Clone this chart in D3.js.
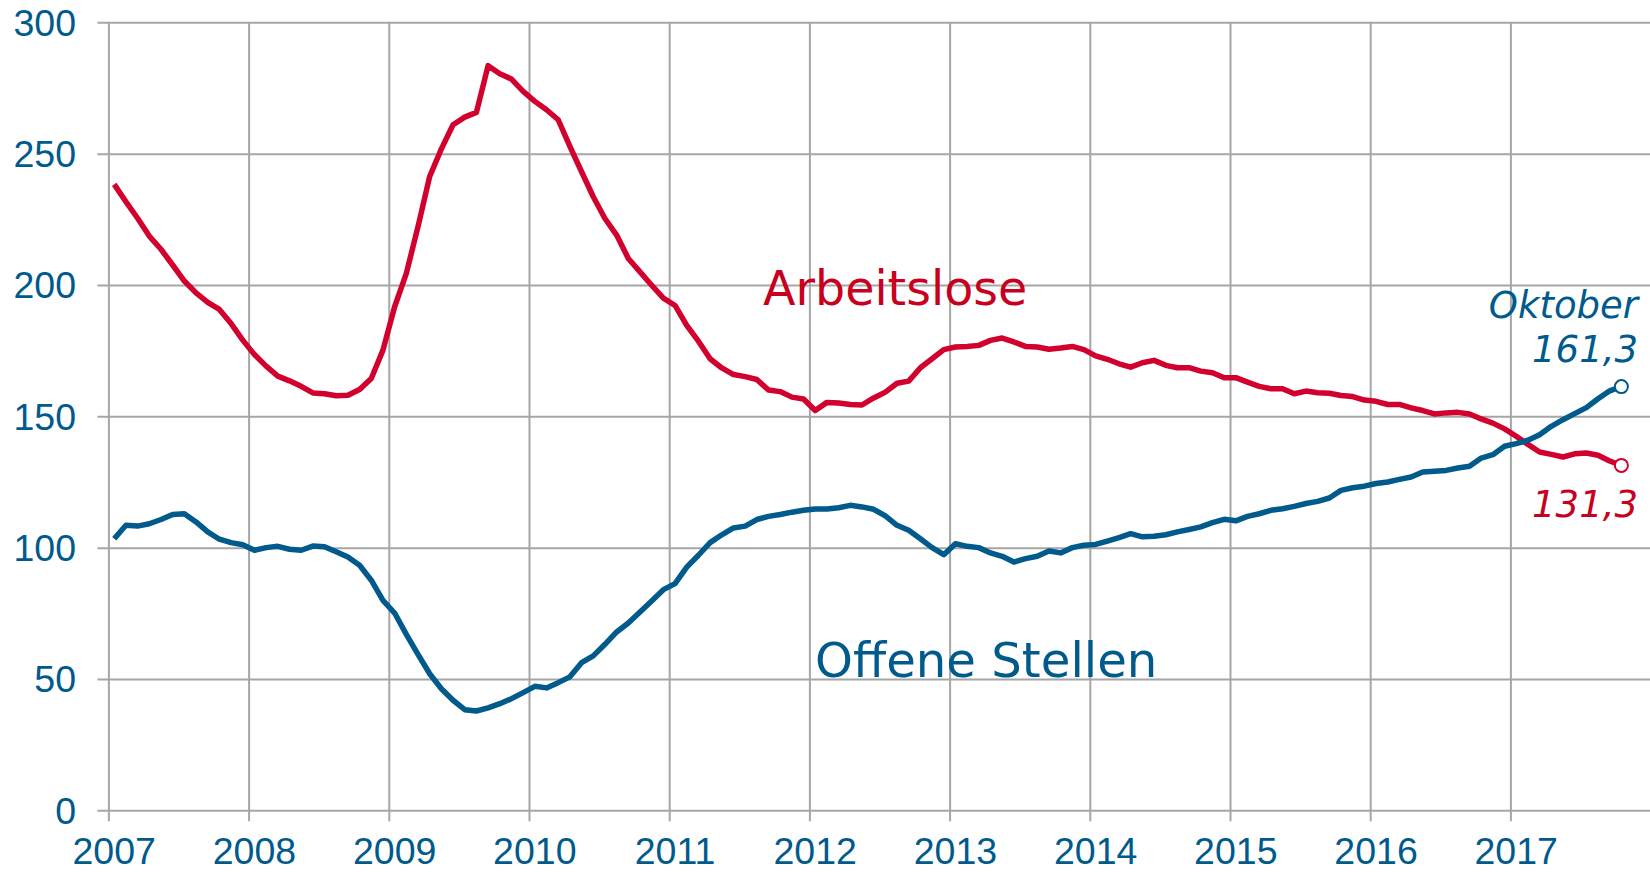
<html>
    <head>
        <title>Arbeitslose und offene Stellen</title>
        <script src="https://d3js.org/d3.v7.min.js"></script>
    </head>
    <body>
        <svg id="chart" width="1650" height="872"></svg>
        <script>
            // monthly values, Jan 2007 .. Oct 2017
            const startYear = 2007;
            const yearTicks = [2007, 2008, 2009, 2010, 2011, 2012, 2013, 2014, 2015, 2016, 2017];
            const valueTicks = [0, 50, 100, 150, 200, 250, 300];

            const arbeitslose = [
                238.3, 231.7, 225.4, 218.6, 213.6, 207.6, 201.5, 197.0, 193.4, 190.7, 185.3, 179.0,
                173.5, 169.1, 165.3, 163.5, 161.4, 158.9, 158.6, 157.8, 158.0, 160.2, 164.4, 175.2,
                191.7, 204.4, 222.2, 241.3, 251.8, 261.0, 263.9, 265.7, 283.5, 280.4, 278.4, 273.7,
                269.9, 266.7, 262.9, 252.8, 243.1, 233.6, 225.3, 219.0, 210.1, 205.0, 199.9, 195.0,
                192.2, 184.6, 178.6, 171.9, 168.4, 165.9, 165.1, 164.0, 160.0, 159.4, 157.3, 156.6,
                152.2, 155.3, 155.1, 154.5, 154.3, 157.0, 159.2, 162.6, 163.4, 168.5, 171.9, 175.4,
                176.4, 176.6, 177.0, 178.9, 179.8, 178.3, 176.6, 176.4, 175.5, 176.0, 176.6, 175.4,
                173.0, 171.7, 170.0, 168.7, 170.4, 171.3, 169.4, 168.5, 168.5, 167.2, 166.6, 164.7,
                164.7, 163.0, 161.4, 160.5, 160.5, 158.6, 159.6, 159.0, 158.8, 157.9, 157.5, 156.2,
                155.7, 154.5, 154.5, 153.2, 152.2, 150.9, 151.3, 151.5, 150.9, 149.0, 147.4, 145.2,
                142.4, 139.3, 136.4, 135.5, 134.5, 135.7, 136.0, 135.2, 133.0, 131.3
            ];
            const offeneStellen = [
                103.4, 108.5, 108.2, 109.1, 110.7, 112.6, 112.9, 109.8, 106.0, 103.2, 101.9, 101.1,
                99.0, 100.0, 100.5, 99.4, 99.0, 100.6, 100.3, 98.4, 96.4, 93.3, 87.6, 79.9,
                75.1, 67.0, 59.4, 52.0, 46.3, 41.9, 38.3, 37.8, 39.0, 40.6, 42.5, 44.8,
                47.2, 46.6, 48.6, 50.8, 56.2, 58.8, 63.2, 67.9, 71.3, 75.5, 79.7, 84.0,
                86.3, 92.6, 97.1, 101.9, 104.9, 107.5, 108.2, 110.7, 111.9, 112.6, 113.5, 114.2,
                114.7, 114.7, 115.2, 116.1, 115.5, 114.6, 112.1, 108.5, 106.6, 103.4, 100.0, 97.3,
                101.5, 100.5, 100.0, 98.0, 96.7, 94.5, 95.8, 96.7, 98.7, 98.0, 100.0, 100.9,
                101.2, 102.5, 103.8, 105.3, 104.1, 104.3, 104.9, 106.0, 106.9, 107.9, 109.5, 110.8,
                110.2, 111.9, 112.9, 114.2, 114.8, 115.7, 116.8, 117.6, 118.9, 121.8, 122.8, 123.4,
                124.4, 125.0, 126.0, 126.9, 128.8, 129.1, 129.4, 130.3, 131.0, 134.1, 135.4, 138.6,
                139.6, 140.9, 143.0, 146.2, 148.7, 151.0, 153.3, 156.7, 159.7, 161.3
            ];

            const red = "#d2002c";
            const redText = "#c8001e";
            const blue = "#005a8c";
            const gridColor = "#a6a6a6";

            const svg = d3.select("svg#chart");
            const width = +svg.attr("width");

            const x = d3.scaleLinear().domain([2007, 2018]).range([108.4, 1650.6]);
            const y = d3.scaleLinear().domain([0, 300]).range([810.3, 22.3]);
            const monthX = i => x(startYear + (i + 0.5) / 12);

            // gridlines
            const grid = svg.append("g").attr("class", "gridlines");
            grid.append("g")
                .attr("transform", `translate(0,${y(0) + 11})`)
                .call(d3.axisBottom(x).tickValues(yearTicks).tickSize(-(y(0) + 11 - y(300))).tickFormat(""));
            grid.append("g")
                .attr("transform", `translate(${x(2007) - 11},0)`)
                .call(d3.axisLeft(y).tickValues(valueTicks).tickSize(-(width - x(2007) + 11)).tickFormat(""));
            grid.selectAll(".domain").remove();
            grid.selectAll("line").attr("stroke", gridColor).attr("stroke-width", 2);

            // tick labels
            svg.append("g").selectAll("text").data(valueTicks).join("text")
                .attr("x", 76)
                .attr("y", d => y(d))
                .attr("dy", "0.36em")
                .attr("text-anchor", "end")
                .attr("class", "tick-label")
                .text(d => d);
            svg.append("g").selectAll("text").data(yearTicks).join("text")
                .attr("x", d => x(d + 0.5 / 12))
                .attr("y", 863.5)
                .attr("text-anchor", "middle")
                .attr("class", "tick-label")
                .text(d => d);

            // lines (blue drawn last, it lies on top at the crossing)
            const lineGen = d3.line().x((d, i) => monthX(i)).y(d => y(d));
            const series = [[arbeitslose, red], [offeneStellen, blue]];
            series.forEach(([values, color]) => {
                svg.append("path")
                    .datum(values)
                    .attr("fill", "none")
                    .attr("stroke", color)
                    .attr("stroke-width", 5.5)
                    .attr("stroke-linejoin", "round")
                    .attr("d", lineGen);
            });
            series.forEach(([values, color]) => {
                const last = values.length - 1;
                svg.append("circle")
                    .attr("cx", monthX(last))
                    .attr("cy", y(values[last]))
                    .attr("r", 6.5)
                    .attr("fill", "white")
                    .attr("stroke", color)
                    .attr("stroke-width", 2);
            });

            // annotations
            svg.append("text").attr("class", "series-label").attr("x", 763).attr("y", 305)
                .style("font-size", "47.5px").attr("fill", redText).text("Arbeitslose");
            svg.append("text").attr("class", "series-label").attr("x", 815).attr("y", 677)
                .attr("fill", blue).text("Offene Stellen");
            svg.append("text").attr("class", "end-label").attr("x", 1638).attr("y", 318)
                .attr("fill", blue).text("Oktober");
            svg.append("text").attr("class", "end-label").attr("x", 1638).attr("y", 362)
                .attr("fill", blue).text("161,3");
            svg.append("text").attr("class", "end-label").attr("x", 1638).attr("y", 517)
                .attr("fill", redText).text("131,3");
        </script>
    </body>
</html>

<style>
    html, body {
        margin: 0;
        padding: 0;
        background: white;
    }
    svg {
        display: block;
    }
    .tick-label {
        font-family: "Liberation Sans", Arial, sans-serif;
        font-size: 37.5px;
        fill: #005a8c;
    }
    .series-label {
        font-family: "DejaVu Sans", Verdana, sans-serif;
        font-size: 48.2px;
    }
    .end-label {
        font-family: "DejaVu Sans", Verdana, sans-serif;
        font-size: 37px;
        font-style: italic;
        text-anchor: end;
    }
</style>
